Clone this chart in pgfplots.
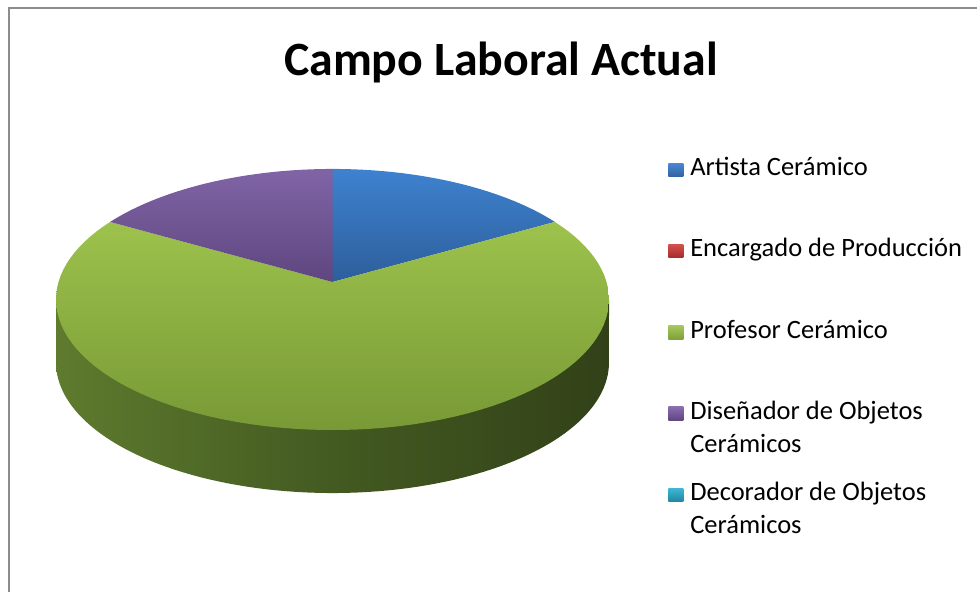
\documentclass[border=0pt]{standalone}
\usepackage{fontspec}
\setmainfont{Carlito}
\usepackage{pgfplots}
\usepackage{pgfplotstable}
\pgfplotsset{compat=1.18}

\definecolor{blueT}{HTML}{3E82CF}
\definecolor{blueB}{HTML}{2D5E9B}
\definecolor{greenT}{HTML}{9DC24C}
\definecolor{greenB}{HTML}{789936}
\definecolor{purpT}{HTML}{8064A6}
\definecolor{purpB}{HTML}{5F467F}
\definecolor{sideA}{HTML}{7A9B3E}
\definecolor{sideB}{HTML}{5E7B2E}
\definecolor{sideC}{HTML}{435A21}
\definecolor{sideD}{HTML}{303E17}
\definecolor{sideE}{HTML}{34441A}
\definecolor{lgBlueT}{HTML}{4A88D2}
\definecolor{lgBlueB}{HTML}{2E62A3}
\definecolor{lgRedT}{HTML}{D4504C}
\definecolor{lgRedB}{HTML}{A32B29}
\definecolor{lgGreenT}{HTML}{A4C85A}
\definecolor{lgGreenB}{HTML}{7F9F3A}
\definecolor{lgPurpT}{HTML}{8A6CB0}
\definecolor{lgPurpB}{HTML}{5E4680}
\definecolor{lgCyanT}{HTML}{3FB6D6}
\definecolor{lgCyanB}{HTML}{1F86A2}
\definecolor{frame}{HTML}{8C8C8C}

\pgfdeclarehorizontalshading{sideshade}{100bp}{color(0bp)=(sideA); color(25bp)=(sideB); color(50bp)=(sideC); color(78bp)=(sideD); color(100bp)=(sideE)}

\pgfplotstableread{
cat value
Artista 1
Encargado 0
Profesor 4
Disenador 1
Decorador 0
}\piedata

\begin{document}%
\begin{tikzpicture}
\pgfplotstablegetelem{0}{value}\of\piedata \pgfmathsetmacro{\va}{\pgfplotsretval}
\pgfplotstablegetelem{1}{value}\of\piedata \pgfmathsetmacro{\vb}{\pgfplotsretval}
\pgfplotstablegetelem{2}{value}\of\piedata \pgfmathsetmacro{\vc}{\pgfplotsretval}
\pgfplotstablegetelem{3}{value}\of\piedata \pgfmathsetmacro{\vd}{\pgfplotsretval}
\pgfplotstablegetelem{4}{value}\of\piedata \pgfmathsetmacro{\ve}{\pgfplotsretval}
\pgfmathsetmacro{\tot}{\va+\vb+\vc+\vd+\ve}
\pgfmathsetmacro{\aA}{360*\va/\tot}
\pgfmathsetmacro{\aB}{\aA+360*\vb/\tot}
\pgfmathsetmacro{\aC}{\aB+360*\vc/\tot}
\pgfmathsetmacro{\aD}{\aC+360*\vd/\tot}
\begin{axis}[name=ax, width=977pt, height=592pt, scale only axis,
  xmin=0, xmax=977, ymin=0, ymax=592, y dir=reverse,
  hide axis, clip=false, samples=90,
  legend cell align=left,
  legend image code/.code={\shade[#1, draw=none] (0pt,-1pt) rectangle (15pt,12.5pt);},
  legend style={at={(axis description cs:0.684,0.7336)}, anchor=north west,
    draw=none, fill=none, inner sep=0pt, outer sep=0pt,
    row sep=62.25pt, column sep=7pt,
    font=\fontsize{26.5}{32.6}\selectfont,
    cells={anchor=base west},
    nodes={inner sep=0pt, text height=18pt, text depth=0pt}},
]
% side of the pie (front rim of the large slice)
\addplot[forget plot, draw=none, shade, shading=sideshade, domain=97.7:262.3]
  ({332.5+274*sin(x)/(1+0.134*cos(x))},{345-128.2*cos(x)/(1+0.134*cos(x))})
  -- (axis cs:56,299.5) -- (axis cs:609,299.5) -- cycle;
% top surfaces
\addplot[forget plot, draw=none, top color=blueT, bottom color=blueB, domain=0:\aA]
  ({332.5+274*sin(x)/(1+0.134*cos(x))},{282-128.2*cos(x)/(1+0.134*cos(x))})
  -- (axis cs:332.5,282) -- cycle;
\addplot[forget plot, draw=none, top color=greenT, bottom color=greenB, domain=\aB:\aC]
  ({332.5+274*sin(x)/(1+0.134*cos(x))},{282-128.2*cos(x)/(1+0.134*cos(x))})
  -- (axis cs:332.5,282) -- cycle;
\addplot[forget plot, draw=none, top color=purpT, bottom color=purpB, domain=\aC:\aD]
  ({332.5+274*sin(x)/(1+0.134*cos(x))},{282-128.2*cos(x)/(1+0.134*cos(x))})
  -- (axis cs:332.5,282) -- cycle;
% legend
\addlegendimage{top color=lgBlueT, bottom color=lgBlueB}
\addlegendentry{Artista Cerámico}
\addlegendimage{top color=lgRedT, bottom color=lgRedB}
\addlegendentry{Encargado de Producción}
\addlegendimage{top color=lgGreenT, bottom color=lgGreenB}
\addlegendentry{Profesor Cerámico}
\addlegendimage{top color=lgPurpT, bottom color=lgPurpB}
\addlegendentry{\vtop{\baselineskip=32.6pt\hbox{Diseñador de Objetos}\hbox{Cerámicos}}}
\addlegendimage{top color=lgCyanT, bottom color=lgCyanB}
\addlegendentry{\vtop{\baselineskip=32.6pt\hbox{Decorador de Objetos}\hbox{Cerámicos}}}
% title and frame
\node[anchor=base, font=\fontsize{47.8}{56}\selectfont\bfseries] at (axis cs:501,75) {Campo Laboral Actual};
\draw[frame, line width=2pt] (axis cs:9,592) -- (axis cs:9,8) -- (axis cs:977,8);
\end{axis}
\pgfresetboundingbox
\useasboundingbox (ax.south west) rectangle (ax.north east);
\end{tikzpicture}%
\end{document}
